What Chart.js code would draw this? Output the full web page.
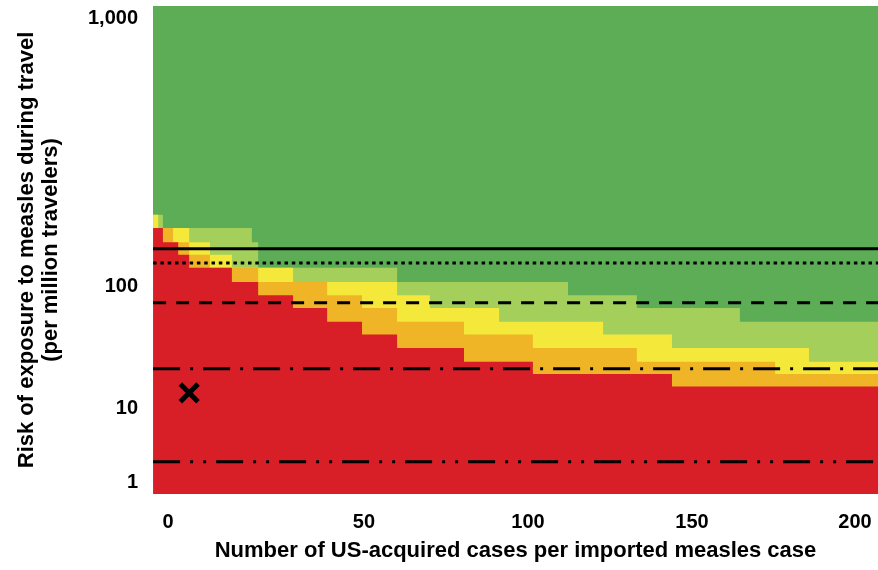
<!DOCTYPE html>
<html>
<head>
<meta charset="utf-8">
<script src="https://cdn.jsdelivr.net/npm/chart.js@4.4.1/dist/chart.umd.min.js"></script>
<style>
  html, body { margin: 0; padding: 0; background: #ffffff; }
  canvas { display: block; }
</style>
</head>
<body>
<canvas id="chart" width="878" height="570"></canvas>
<script>
// ---- Data -----------------------------------------------------------------
// Left edge of each column (US-acquired cases per imported measles case)
const colStart = [-3.8, -2.5, -1.3, 1.3, 2.6, 5.4, 10.7, 16.3, 21.4, 23.0, 31.9, 40.6, 49.5,
                  60.1, 70.1, 80.5, 91.2, 101.5, 112.2, 122.9, 133.2, 143.9, 154.3, 164.7, 175.5, 185.9];
const colEnd = 208;

// Upper boundary of each zone per column (risk per million travelers)
const redTop =        [165, 165, 146, 146, 131, 117, 117, 103.5, 103.5, 84, 66, 51, 40,
                       31, 31, 24, 24, 19, 19, 19, 19, 15, 15, 15, 15, 15];
const orangeTop =     [165, 165, 165, 146, 146, 131, 117, 117, 117, 103.5, 103.5, 84, 66,
                       51, 51, 40, 40, 31, 31, 31, 24, 24, 24, 24, 19, 19];
const yellowTop =     [185, 165, 165, 165, 165, 146, 131, 117, 117, 117, 103.5, 103.5, 103.5,
                       84, 66, 66, 51, 51, 51, 40, 40, 31, 31, 31, 31, 24];
const lightGreenTop = [185, 185, 165, 165, 165, 165, 165, 165, 146, 117, 117, 117, 117,
                       103.5, 103.5, 103.5, 103.5, 103.5, 84, 84, 66, 66, 66, 51, 51, 51];

// Horizontal reference levels (risk per million travelers)
const levelValues = [138, 122, 73, 21, 1.88];

// Marked observation
const markCases = [5.4];
const markRisk = [13.3];

// Axis tick labels
const xTicks = [0, 50, 100, 150, 200];
const yTicks = [1, 10, 100, 1000];

// ---- Colours & styles ------------------------------------------------------
const COLORS = {
  darkGreen: '#5cad56',
  lightGreen: '#a5cf5b',
  yellow: '#f4e83a',
  orange: '#efb526',
  red: '#d81e27'
};
const levelDashes = [[], [3.5, 3.8], [13, 10], [27, 10, 3, 10], [27, 10, 3, 10, 3, 10]];

// ---- Scale with anchored tick positions -------------------------------------
// Maps values piecewise between anchor ticks (log10 or linear between anchors).
class AnchoredScale extends Chart.LinearScale {
  static id = 'anchored';
  static defaults = Chart.LinearScale.defaults;

  _fn(v) { return this.options.logMode ? Math.log10(v) : v; }
  _inv(t) { return this.options.logMode ? Math.pow(10, t) : t; }

  _toDecimal(v) {
    const a = this.options.anchors;
    const t = this._fn(v);
    let i = 0;
    while (i < a.length - 2 && t > this._fn(a[i + 1].value)) i++;
    const t0 = this._fn(a[i].value), t1 = this._fn(a[i + 1].value);
    return a[i].at + (t - t0) / (t1 - t0) * (a[i + 1].at - a[i].at);
  }

  getPixelForValue(v) {
    if (v === null || v === undefined || isNaN(v)) return NaN;
    return this.getPixelForDecimal(this._toDecimal(v));
  }

  getValueForPixel(p) {
    const d = this.getDecimalForPixel(p);
    const a = this.options.anchors;
    let i = 0;
    while (i < a.length - 2 && d > a[i + 1].at) i++;
    const t0 = this._fn(a[i].value), t1 = this._fn(a[i + 1].value);
    return this._inv(t0 + (d - a[i].at) / (a[i + 1].at - a[i].at) * (t1 - t0));
  }

  buildTicks() {
    return this.options.anchors.map(a => ({ value: a.value }));
  }

  // Edge labels sit inside the axis extent, so no extra margin is reserved
  _calculatePadding() {
    this.paddingLeft = 0;
    this.paddingRight = 0;
    this.paddingTop = 0;
    this.paddingBottom = 0;
  }

  getPadding() {
    return { left: 0, top: 0, right: 0, bottom: 0 };
  }
}
Chart.register(AnchoredScale);

// ---- Dataset helpers -------------------------------------------------------
function stepPoints(tops) {
  const pts = colStart.map((x, i) => ({ x, y: tops[i] }));
  pts.push({ x: colEnd, y: tops[tops.length - 1] });
  return pts;
}

function zone(label, tops, color, order) {
  return {
    label,
    data: stepPoints(tops),
    stepped: 'before',
    fill: 'start',
    backgroundColor: color,
    borderColor: color,
    borderWidth: 0,
    pointRadius: 0,
    order
  };
}

function level(value, dash) {
  return {
    data: [{ x: colStart[0], y: value }, { x: colEnd, y: value }],
    borderColor: '#000000',
    borderWidth: 3,
    borderDash: dash,
    borderCapStyle: 'butt',
    pointRadius: 0,
    fill: false,
    order: 1
  };
}

const datasets = [
  {
    label: 'Observed',
    data: markCases.map((x, i) => ({ x, y: markRisk[i] })),
    showLine: false,
    pointStyle: 'crossRot',
    pointRadius: 12.5,
    pointBorderWidth: 5,
    pointBorderColor: '#000000',
    pointBackgroundColor: '#000000',
    order: 0
  },
  ...levelValues.map((v, i) => level(v, levelDashes[i])),
  zone('Red', redTop, COLORS.red, 2),
  zone('Orange', orangeTop, COLORS.orange, 3),
  zone('Yellow', yellowTop, COLORS.yellow, 4),
  zone('Light green', lightGreenTop, COLORS.lightGreen, 5)
];

// Dark green fills everything above the other zones
const plotBackground = {
  id: 'plotBackground',
  beforeDatasetsDraw(chart) {
    const { ctx, chartArea: a } = chart;
    ctx.save();
    ctx.fillStyle = COLORS.darkGreen;
    ctx.fillRect(a.left, a.top, a.right - a.left, a.bottom - a.top);
    ctx.restore();
  }
};

Chart.defaults.font.family = "'Liberation Sans', Arial, sans-serif";
Chart.defaults.font.weight = 'bold';
Chart.defaults.color = '#000000';

const xAnchorsAt = [0.0207, 0.291, 0.5172, 0.7434, 0.9683];
const yAnchorsAt = [0.0246, 0.1762, 0.4262, 0.9734];

new Chart(document.getElementById('chart'), {
  type: 'line',
  data: { datasets },
  plugins: [plotBackground],
  options: {
    responsive: false,
    animation: false,
    layout: { autoPadding: false, padding: { top: 6, right: 0, bottom: 0, left: 0 } },
    plugins: { legend: { display: false }, tooltip: { enabled: false } },
    elements: { line: { tension: 0 } },
    scales: {
      x: {
        type: 'anchored',
        logMode: false,
        anchors: xTicks.map((value, i) => ({ value, at: xAnchorsAt[i] })),
        min: -4,
        max: 208,
        grid: { display: false, drawTicks: false },
        border: { display: false },
        ticks: {
          autoSkip: false,
          maxRotation: 0,
          padding: 16,
          font: { size: 20, weight: 'bold' },
          callback: v => String(v)
        },
        title: {
          display: true,
          text: 'Number of US-acquired cases per imported measles case',
          font: { size: 22, weight: 'bold' },
          padding: { top: 0, bottom: 6 }
        },
        afterFit: s => { s.height = 76; }
      },
      y: {
        type: 'anchored',
        logMode: true,
        anchors: yTicks.map((value, i) => ({ value, at: yAnchorsAt[i] })),
        min: 0.5,
        max: 1500,
        grid: { display: false, drawTicks: false },
        border: { display: false },
        ticks: {
          autoSkip: false,
          padding: 15,
          font: { size: 20, weight: 'bold' },
          callback: v => Number(v).toLocaleString('en-US')
        },
        title: {
          display: true,
          text: ['Risk of exposure to measles during travel', '(per million travelers)'],
          font: { size: 22, weight: 'bold', lineHeight: 1.1 },
          padding: { top: 15, bottom: 0 }
        },
        afterFit: s => { s.width = 153; }
      }
    }
  }
});
</script>
</body>
</html>
